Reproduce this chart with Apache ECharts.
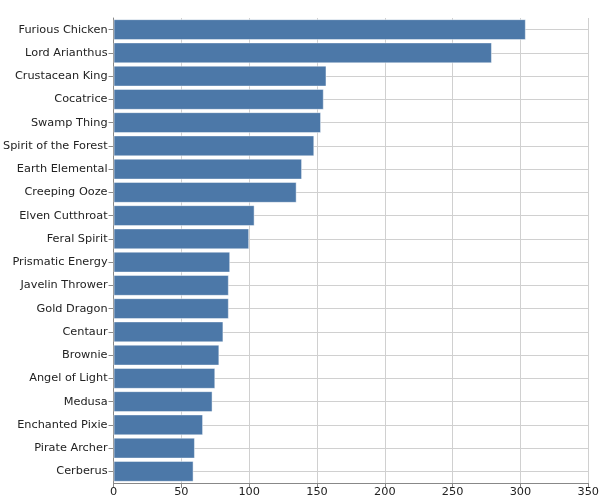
<!DOCTYPE html>
<html>
<head>
<meta charset="utf-8">
<script src="https://cdn.jsdelivr.net/npm/echarts@6/dist/echarts.min.js"></script>
<style>
    html, body { margin: 0; padding: 0; background: #fff; }
    #chart { width: 602px; height: 502px; }
</style>
</head>
<body>
<div id="chart"></div>
<script>
const creatures = [
    'Furious Chicken', 'Lord Arianthus', 'Crustacean King', 'Cocatrice', 'Swamp Thing',
    'Spirit of the Forest', 'Earth Elemental', 'Creeping Ooze', 'Elven Cutthroat', 'Feral Spirit',
    'Prismatic Energy', 'Javelin Thrower', 'Gold Dragon', 'Centaur', 'Brownie',
    'Angel of Light', 'Medusa', 'Enchanted Pixie', 'Pirate Archer', 'Cerberus',
];
const counts = [
    304, 279, 157, 155, 153,
    148, 139, 135, 104, 100,
    86, 85, 85, 81, 78,
    75, 73, 66, 60, 59,
];
const xTicks = { min: 0, max: 350, step: 50 };

const font = 'DejaVu Sans, sans-serif';
const chart = echarts.init(document.getElementById('chart'));

chart.setOption({
    backgroundColor: '#fff',
    animation: false,
    grid: {
        left: 113,
        right: 12,
        top: 18,
        bottom: 19,
    },
    xAxis: {
        type: 'value',
        min: xTicks.min,
        max: xTicks.max,
        interval: xTicks.step,
        axisLine: { show: true, lineStyle: { color: '#888', width: 1 } },
        axisTick: { show: true, length: 5, lineStyle: { color: '#888' } },
        axisLabel: { color: '#222', fontSize: 11.3, fontFamily: font, margin: 4 },
        splitLine: { show: true, lineStyle: { color: '#d0d0d0', width: 1 } },
    },
    yAxis: {
        type: 'category',
        inverse: true,
        data: creatures,
        axisLine: { show: true, lineStyle: { color: '#888', width: 1 } },
        axisTick: { show: true, length: 5, alignWithLabel: true, lineStyle: { color: '#888' } },
        axisLabel: { color: '#222', fontSize: 11.3, fontFamily: font, margin: 6 },
        splitLine: { show: true, alignWithLabel: true, lineStyle: { color: '#d0d0d0', width: 1 } },
    },
    series: [
        {
            type: 'bar',
            data: counts,
            barCategoryGap: '10%',
            itemStyle: {
                color: '#4c78a8',
                borderColor: 'rgba(255,255,255,0.45)',
                borderWidth: 1,
            },
        },
    ],
});
</script>
</body>
</html>
